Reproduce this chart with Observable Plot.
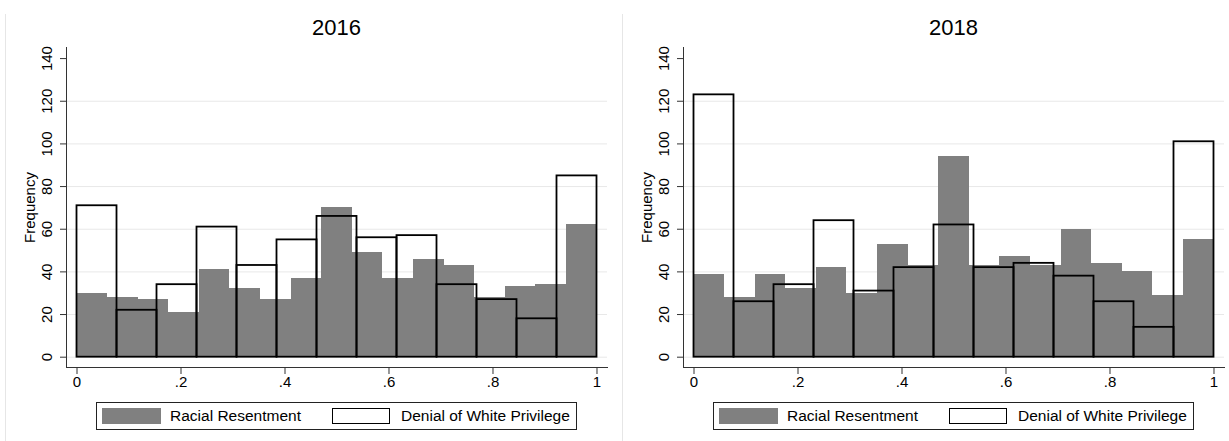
<!DOCTYPE html>
<html><head><meta charset="utf-8">
<script src="https://cdn.jsdelivr.net/npm/d3@7"></script>
<script src="https://cdn.jsdelivr.net/npm/@observablehq/plot@0.6"></script>
<style>
body{margin:0;background:#fff;font-family:"Liberation Sans",Arial,sans-serif;}
#root{position:relative;width:1229px;height:441px;overflow:hidden;background:#fff}
.panel{position:absolute;top:0;width:614px;height:441px}
.divider{position:absolute;top:14px;width:1px;height:427px;background:#e6e6e6}
.title{position:absolute;top:15px;left:66px;width:541px;text-align:center;font-size:22px;line-height:26px;color:#000}
.legend{position:absolute;left:96px;top:402px;width:479px;height:26px;border:1px solid #222;background:#fff}
.sw{position:absolute;top:5px;height:16px;box-sizing:border-box}
.lt{position:absolute;top:0;line-height:26px;font-size:15.5px;color:#000;white-space:nowrap}
.plot{position:absolute;left:0;top:0}
.plot g[aria-label$="tick label"], .plot g[aria-label$="tick label"] text{font-size:15px !important;fill:#000}
</style>
</head><body>
<div id="root"></div>
<script>
const years = ["2016", "2018"];
const series = ["Racial Resentment", "Denial of White Privilege"];
const rr2016  = [30,28,27,21,41,32,27,37,70,49,37,46,43,28,33,34,62];
const dwp2016 = [71,22,34,61,43,55,66,56,57,34,27,18,85];
const rr2018  = [39,28,39,32,42,30,53,43,94,43,47,43,60,44,40,29,55];
const dwp2018 = [123,26,34,64,31,42,62,42,44,38,26,14,101];
const xTicks = [0, 0.2, 0.4, 0.6, 0.8, 1];
const xTickLabels = ["0", ".2", ".4", ".6", ".8", "1"];
const yTicks = [0, 20, 40, 60, 80, 100, 120, 140];
const gridTicks = [0, 20, 40, 60, 80, 100, 120];
const yLabel = "Frequency";

function bins(counts) {
  return counts.map((c, i) => ({x1: i / counts.length, x2: (i + 1) / counts.length, y: c}));
}

function panel(rr, dwp) {
  return Plot.plot({
    width: 614, height: 400,
    marginLeft: 66, marginRight: 7, marginTop: 47, marginBottom: 33,
    style: {fontFamily: '"Liberation Sans", Arial, sans-serif', fontSize: "15px", color: "#000", background: "transparent", overflow: "visible"},
    x: {domain: [-0.0202, 1.0202]},
    y: {domain: [-4.83, 145.2]},
    marks: [
      Plot.gridY(gridTicks, {stroke: "#e8e8e8", strokeOpacity: 1, strokeWidth: 1}),
      Plot.rectY(bins(rr), {x1: "x1", x2: "x2", y: "y", fill: "#808080", shapeRendering: "crispEdges"}),
      Plot.rectY(bins(dwp), {x1: "x1", x2: "x2", y: "y", fill: "none", stroke: "#000", strokeWidth: 1.8}),
      Plot.frame({anchor: "left", stroke: "#333"}),
      Plot.frame({anchor: "bottom", stroke: "#333"}),
      Plot.axisX(xTicks, {tickSize: 7, tickPadding: 2, stroke: "#333", fontSize: 15, tickFormat: d => xTickLabels[xTicks.indexOf(d)], label: null}),
      Plot.axisY(yTicks, {tickSize: 6, tickRotate: -90, tickPadding: 8.5, stroke: "#333", fontSize: 15, label: null}),
      Plot.text([yLabel], {frameAnchor: "left", dx: -36, rotate: -90, textAnchor: "middle", fontSize: 15, text: d => d, fill: "#000"})
    ]
  });
}

const root = document.getElementById("root");
const panels = [[rr2016, dwp2016], [rr2018, dwp2018]];
const offsets = [0, 617];
[5, 622].forEach(x => {
  const d = document.createElement("div");
  d.className = "divider"; d.style.left = x + "px";
  root.appendChild(d);
});
panels.forEach(([rr, dwp], k) => {
  const p = document.createElement("div");
  p.className = "panel"; p.style.left = offsets[k] + "px";
  const svg = panel(rr, dwp);
  svg.classList.add("plot");
  p.appendChild(svg);
  const t = document.createElement("div");
  t.className = "title"; t.textContent = years[k];
  p.appendChild(t);
  const lg = document.createElement("div");
  lg.className = "legend";
  lg.innerHTML =
    `<div class="sw" style="left:5px;width:59px;background:#808080"></div>` +
    `<div class="lt" style="left:73px">${series[0]}</div>` +
    `<div class="sw" style="left:235px;width:58px;background:#fff;border:1.5px solid #000"></div>` +
    `<div class="lt" style="left:304px">${series[1]}</div>`;
  p.appendChild(lg);
  root.appendChild(p);
});
</script>
</body></html>
